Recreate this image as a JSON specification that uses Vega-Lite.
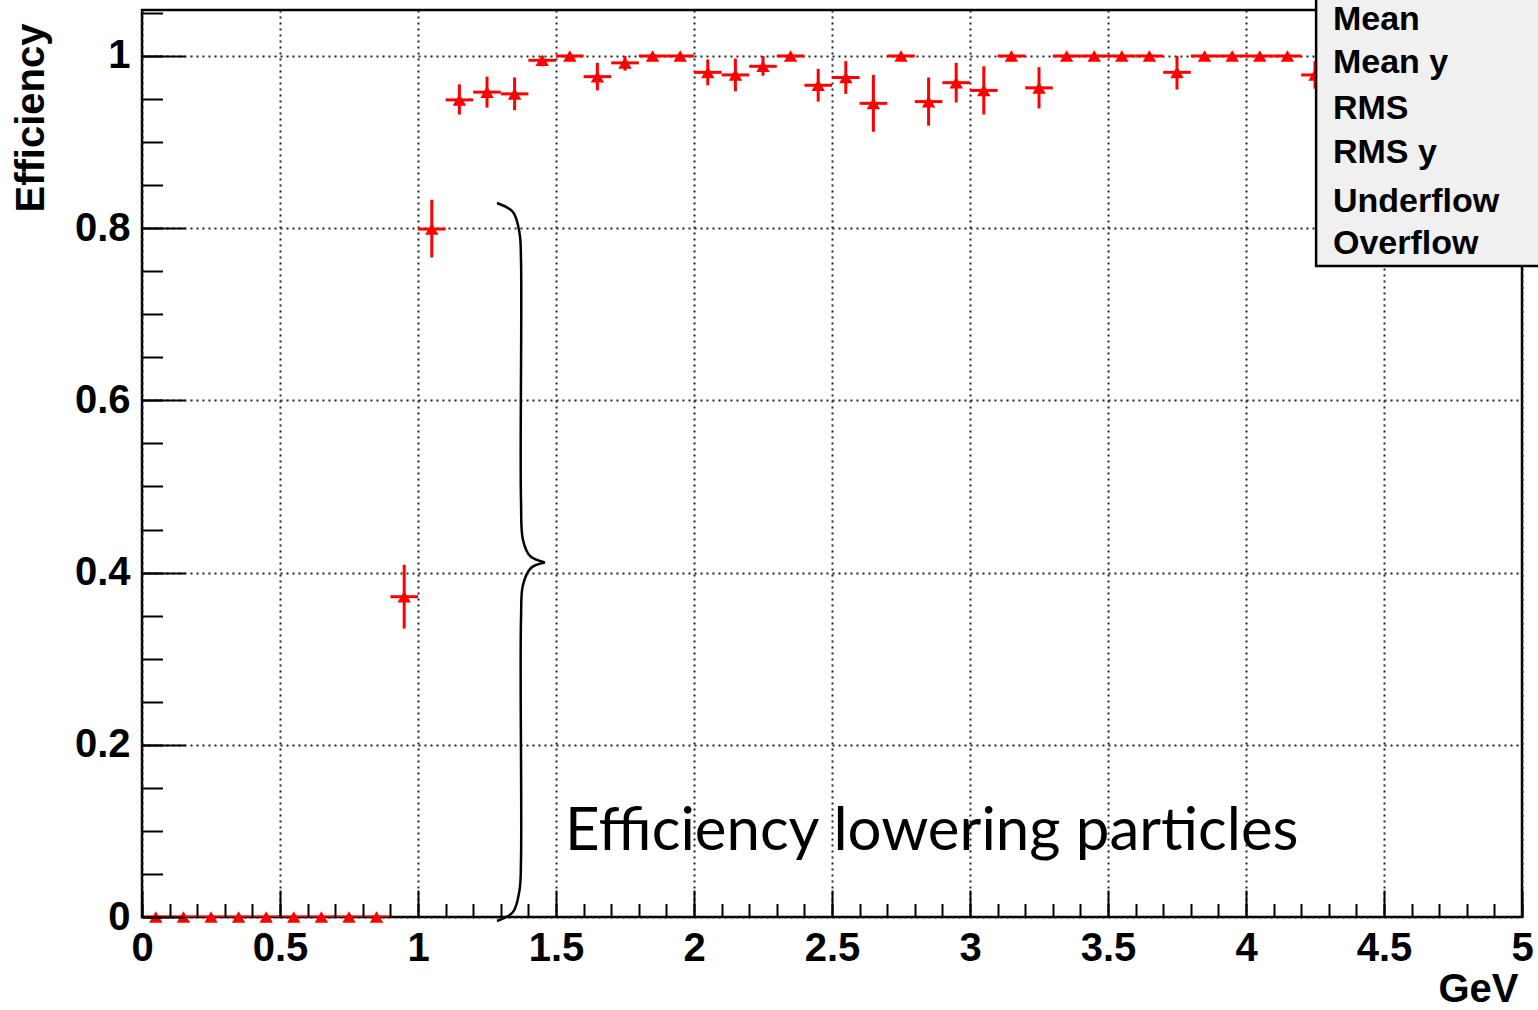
{
  "$schema": "https://vega.github.io/schema/vega-lite/v6.json",
  "width": 1380,
  "height": 907,
  "autosize": {"type": "none"},
  "padding": {"left": 142, "top": 10, "right": 16, "bottom": 93},
  "background": "white",
  "config": {
    "view": {"stroke": "black", "strokeWidth": 2.5},
    "axis": {"labelFont": "Liberation Sans", "titleFont": "Liberation Sans"}
  },
  "datasets": {
    "eff": [
      {"x": 0.05, "lo": 0.0, "hi": 0.1, "y": 0, "ylo": 0, "yhi": 0},
      {"x": 0.15, "lo": 0.1, "hi": 0.2, "y": 0, "ylo": 0, "yhi": 0},
      {"x": 0.25, "lo": 0.2, "hi": 0.3, "y": 0, "ylo": 0, "yhi": 0},
      {"x": 0.35, "lo": 0.3, "hi": 0.4, "y": 0, "ylo": 0, "yhi": 0},
      {"x": 0.45, "lo": 0.4, "hi": 0.5, "y": 0, "ylo": 0, "yhi": 0},
      {"x": 0.55, "lo": 0.5, "hi": 0.6, "y": 0, "ylo": 0, "yhi": 0},
      {"x": 0.65, "lo": 0.6, "hi": 0.7, "y": 0, "ylo": 0, "yhi": 0},
      {"x": 0.75, "lo": 0.7, "hi": 0.8, "y": 0, "ylo": 0, "yhi": 0},
      {"x": 0.85, "lo": 0.8, "hi": 0.9, "y": 0, "ylo": 0, "yhi": 0},
      {"x": 0.95, "lo": 0.9, "hi": 1.0, "y": 0.372, "ylo": 0.335, "yhi": 0.409},
      {"x": 1.05, "lo": 1.0, "hi": 1.1, "y": 0.799, "ylo": 0.766, "yhi": 0.833},
      {"x": 1.15, "lo": 1.1, "hi": 1.2, "y": 0.949, "ylo": 0.932, "yhi": 0.967},
      {"x": 1.25, "lo": 1.2, "hi": 1.3, "y": 0.958, "ylo": 0.940, "yhi": 0.976},
      {"x": 1.35, "lo": 1.3, "hi": 1.4, "y": 0.956, "ylo": 0.937, "yhi": 0.975},
      {"x": 1.45, "lo": 1.4, "hi": 1.5, "y": 0.995, "ylo": 0.988, "yhi": 1.0},
      {"x": 1.55, "lo": 1.5, "hi": 1.6, "y": 1.0, "ylo": 1.0, "yhi": 1.0},
      {"x": 1.65, "lo": 1.6, "hi": 1.7, "y": 0.976, "ylo": 0.960, "yhi": 0.992},
      {"x": 1.75, "lo": 1.7, "hi": 1.8, "y": 0.992, "ylo": 0.983, "yhi": 1.0},
      {"x": 1.85, "lo": 1.8, "hi": 1.9, "y": 1.0, "ylo": 1.0, "yhi": 1.0},
      {"x": 1.95, "lo": 1.9, "hi": 2.0, "y": 1.0, "ylo": 1.0, "yhi": 1.0},
      {"x": 2.05, "lo": 2.0, "hi": 2.1, "y": 0.981, "ylo": 0.966, "yhi": 0.996},
      {"x": 2.15, "lo": 2.1, "hi": 2.2, "y": 0.978, "ylo": 0.959, "yhi": 0.997},
      {"x": 2.25, "lo": 2.2, "hi": 2.3, "y": 0.988, "ylo": 0.977, "yhi": 1.0},
      {"x": 2.35, "lo": 2.3, "hi": 2.4, "y": 1.0, "ylo": 1.0, "yhi": 1.0},
      {"x": 2.45, "lo": 2.4, "hi": 2.5, "y": 0.966, "ylo": 0.947, "yhi": 0.985},
      {"x": 2.55, "lo": 2.5, "hi": 2.6, "y": 0.975, "ylo": 0.956, "yhi": 0.994},
      {"x": 2.65, "lo": 2.6, "hi": 2.7, "y": 0.945, "ylo": 0.912, "yhi": 0.978},
      {"x": 2.75, "lo": 2.7, "hi": 2.8, "y": 1.0, "ylo": 1.0, "yhi": 1.0},
      {"x": 2.85, "lo": 2.8, "hi": 2.9, "y": 0.947, "ylo": 0.919, "yhi": 0.975},
      {"x": 2.95, "lo": 2.9, "hi": 3.0, "y": 0.969, "ylo": 0.946, "yhi": 0.992},
      {"x": 3.05, "lo": 3.0, "hi": 3.1, "y": 0.960, "ylo": 0.932, "yhi": 0.988},
      {"x": 3.15, "lo": 3.1, "hi": 3.2, "y": 1.0, "ylo": 1.0, "yhi": 1.0},
      {"x": 3.25, "lo": 3.2, "hi": 3.3, "y": 0.963, "ylo": 0.939, "yhi": 0.987},
      {"x": 3.35, "lo": 3.3, "hi": 3.4, "y": 1.0, "ylo": 1.0, "yhi": 1.0},
      {"x": 3.45, "lo": 3.4, "hi": 3.5, "y": 1.0, "ylo": 1.0, "yhi": 1.0},
      {"x": 3.55, "lo": 3.5, "hi": 3.6, "y": 1.0, "ylo": 1.0, "yhi": 1.0},
      {"x": 3.65, "lo": 3.6, "hi": 3.7, "y": 1.0, "ylo": 1.0, "yhi": 1.0},
      {"x": 3.75, "lo": 3.7, "hi": 3.8, "y": 0.981, "ylo": 0.961, "yhi": 1.0},
      {"x": 3.85, "lo": 3.8, "hi": 3.9, "y": 1.0, "ylo": 1.0, "yhi": 1.0},
      {"x": 3.95, "lo": 3.9, "hi": 4.0, "y": 1.0, "ylo": 1.0, "yhi": 1.0},
      {"x": 4.05, "lo": 4.0, "hi": 4.1, "y": 1.0, "ylo": 1.0, "yhi": 1.0},
      {"x": 4.15, "lo": 4.1, "hi": 4.2, "y": 1.0, "ylo": 1.0, "yhi": 1.0},
      {"x": 4.25, "lo": 4.2, "hi": 4.3, "y": 0.978, "ylo": 0.962, "yhi": 0.994},
      {"x": 4.35, "lo": 4.3, "hi": 4.4, "y": 1.0, "ylo": 1.0, "yhi": 1.0},
      {"x": 4.45, "lo": 4.4, "hi": 4.5, "y": 1.0, "ylo": 1.0, "yhi": 1.0},
      {"x": 4.55, "lo": 4.5, "hi": 4.6, "y": 1.0, "ylo": 1.0, "yhi": 1.0},
      {"x": 4.65, "lo": 4.6, "hi": 4.7, "y": 1.0, "ylo": 1.0, "yhi": 1.0},
      {"x": 4.75, "lo": 4.7, "hi": 4.8, "y": 1.0, "ylo": 1.0, "yhi": 1.0},
      {"x": 4.85, "lo": 4.8, "hi": 4.9, "y": 1.0, "ylo": 1.0, "yhi": 1.0},
      {"x": 4.95, "lo": 4.9, "hi": 5.0, "y": 1.0, "ylo": 1.0, "yhi": 1.0}
    ],
    "brace": [
      {"part": "upper", "i": 1, "x": 1.2862, "y": 0.8293},
      {"part": "upper", "i": 2, "x": 1.3442, "y": 0.8188},
      {"part": "upper", "i": 3, "x": 1.3678, "y": 0.7944},
      {"part": "upper", "i": 4, "x": 1.3732, "y": 0.7631},
      {"part": "upper", "i": 5, "x": 1.3732, "y": 0.4843},
      {"part": "upper", "i": 6, "x": 1.3804, "y": 0.4379},
      {"part": "upper", "i": 7, "x": 1.4058, "y": 0.4193},
      {"part": "upper", "i": 8, "x": 1.4601, "y": 0.4117},
      {"part": "lower", "i": 1, "x": 1.4601, "y": 0.4117},
      {"part": "lower", "i": 2, "x": 1.4094, "y": 0.4053},
      {"part": "lower", "i": 3, "x": 1.3804, "y": 0.3856},
      {"part": "lower", "i": 4, "x": 1.3732, "y": 0.3449},
      {"part": "lower", "i": 5, "x": 1.3732, "y": 0.0662},
      {"part": "lower", "i": 6, "x": 1.3678, "y": 0.0314},
      {"part": "lower", "i": 7, "x": 1.3442, "y": 0.0058},
      {"part": "lower", "i": 8, "x": 1.2862, "y": -0.0046}
    ],
    "stats": [
      {"label": "Mean", "y": 1.0418},
      {"label": "Mean y", "y": 0.9919},
      {"label": "RMS", "y": 0.9384},
      {"label": "RMS y", "y": 0.8873},
      {"label": "Underflow", "y": 0.8304},
      {"label": "Overflow", "y": 0.7816}
    ]
  },
  "resolve": {"axis": {"x": "independent", "y": "independent"}},
  "layer": [
    {
      "data": {"name": "eff"},
      "mark": {"type": "rule", "color": "#ff0000", "strokeWidth": 3, "clip": true},
      "encoding": {
        "x": {
          "field": "lo", "type": "quantitative",
          "scale": {"domain": [0, 5], "nice": false, "zero": false},
          "axis": {
            "orient": "bottom",
            "values": [0, 0.5, 1, 1.5, 2, 2.5, 3, 3.5, 4, 4.5, 5],
            "format": "~g",
            "labelFontSize": 40, "labelFontWeight": "bold", "labelColor": "black",
            "labelPadding": 11, "labelFlush": false, "labelOverlap": false,
            "ticks": false, "domain": false,
            "grid": true, "gridColor": "#222222", "gridDash": [2, 4], "gridWidth": 2,
            "title": "GeV", "titleFontSize": 40, "titleFontWeight": "bold", "titleColor": "black",
            "titleX": 1376, "titleY": 84, "titleAlign": "right", "titleBaseline": "alphabetic"
          }
        },
        "x2": {"field": "hi"},
        "y": {
          "field": "y", "type": "quantitative",
          "scale": {"domain": [0, 1.0534], "nice": false, "zero": false},
          "axis": {
            "orient": "left",
            "values": [0, 0.2, 0.4, 0.6, 0.8, 1],
            "format": "~g",
            "labelFontSize": 40, "labelFontWeight": "bold", "labelColor": "black",
            "labelPadding": 12, "labelFlush": false, "labelOverlap": false,
            "ticks": false, "domain": false,
            "grid": true, "gridColor": "#222222", "gridDash": [2, 4], "gridWidth": 2,
            "title": "Efficiency", "titleFontSize": 40, "titleFontWeight": "bold", "titleColor": "black",
            "titleAngle": -90, "titleX": -99, "titleY": 13, "titleAlign": "right", "titleBaseline": "alphabetic"
          }
        }
      }
    },
    {
      "data": {"name": "eff"},
      "mark": {"type": "rule", "color": "#ff0000", "strokeWidth": 3, "clip": true},
      "encoding": {
        "x": {
          "field": "x", "type": "quantitative",
          "axis": {
            "orient": "bottom",
            "values": [0, 0.5, 1, 1.5, 2, 2.5, 3, 3.5, 4, 4.5, 5],
            "labels": false, "grid": false, "domain": false, "title": null,
            "ticks": true, "tickSize": -27, "tickWidth": 2, "tickColor": "black", "zindex": 1
          }
        },
        "y": {
          "field": "ylo", "type": "quantitative",
          "axis": {
            "orient": "left",
            "values": [0, 0.2, 0.4, 0.6, 0.8, 1],
            "labels": false, "grid": false, "domain": false, "title": null,
            "ticks": true, "tickSize": -43, "tickWidth": 2, "tickColor": "black", "zindex": 1
          }
        },
        "y2": {"field": "yhi"}
      }
    },
    {
      "data": {"name": "eff"},
      "mark": {"type": "point", "shape": "triangle-up", "filled": true, "color": "#ff0000", "size": 180, "opacity": 1, "clip": false},
      "encoding": {
        "x": {
          "field": "x", "type": "quantitative",
          "axis": {
            "orient": "bottom",
            "values": [0, 0.1, 0.2, 0.3, 0.4, 0.5, 0.6, 0.7, 0.8, 0.9, 1, 1.1, 1.2, 1.3, 1.4, 1.5, 1.6, 1.7, 1.8, 1.9, 2, 2.1, 2.2, 2.3, 2.4, 2.5, 2.6, 2.7, 2.8, 2.9, 3, 3.1, 3.2, 3.3, 3.4, 3.5, 3.6, 3.7, 3.8, 3.9, 4, 4.1, 4.2, 4.3, 4.4, 4.5, 4.6, 4.7, 4.8, 4.9, 5],
            "labels": false, "grid": false, "domain": false, "title": null,
            "ticks": true, "tickSize": -13.5, "tickWidth": 2, "tickColor": "black", "zindex": 1
          }
        },
        "y": {
          "field": "y", "type": "quantitative",
          "axis": {
            "orient": "left",
            "values": [0, 0.05, 0.1, 0.15, 0.2, 0.25, 0.3, 0.35, 0.4, 0.45, 0.5, 0.55, 0.6, 0.65, 0.7, 0.75, 0.8, 0.85, 0.9, 0.95, 1, 1.05],
            "labels": false, "grid": false, "domain": false, "title": null,
            "ticks": true, "tickSize": -20.5, "tickWidth": 2, "tickColor": "black", "zindex": 1
          }
        }
      }
    },
    {
      "data": {"name": "brace"},
      "mark": {"type": "line", "color": "black", "strokeWidth": 2.5, "interpolate": "catmull-rom", "clip": false},
      "encoding": {
        "x": {"field": "x", "type": "quantitative", "axis": null},
        "y": {"field": "y", "type": "quantitative", "axis": null},
        "detail": {"field": "part"},
        "order": {"field": "i", "type": "quantitative"}
      }
    },
    {
      "data": {"values": [{"label": "Efficiency lowering particles"}]},
      "mark": {"type": "text", "font": "Lato", "fontSize": 60, "color": "black", "align": "left", "baseline": "alphabetic"},
      "encoding": {
        "x": {"datum": 1.533, "type": "quantitative", "axis": null},
        "y": {"datum": 0.0778, "type": "quantitative", "axis": null},
        "text": {"field": "label"}
      }
    },
    {
      "data": {"values": [{"box": "stats"}]},
      "mark": {"type": "rect", "fill": "#f0f0f0", "stroke": "black", "strokeWidth": 2.5, "clip": false},
      "encoding": {
        "x": {"datum": 4.254, "type": "quantitative", "axis": null},
        "x2": {"datum": 5.2},
        "y": {"datum": 0.756, "type": "quantitative", "axis": null},
        "y2": {"datum": 1.2}
      }
    },
    {
      "data": {"name": "stats"},
      "mark": {"type": "text", "font": "Liberation Sans", "fontWeight": "bold", "fontSize": 34, "color": "black", "align": "left", "baseline": "middle", "clip": false},
      "encoding": {
        "x": {"datum": 4.315, "type": "quantitative", "axis": null},
        "y": {"field": "y", "type": "quantitative", "axis": null},
        "text": {"field": "label"}
      }
    }
  ]
}
